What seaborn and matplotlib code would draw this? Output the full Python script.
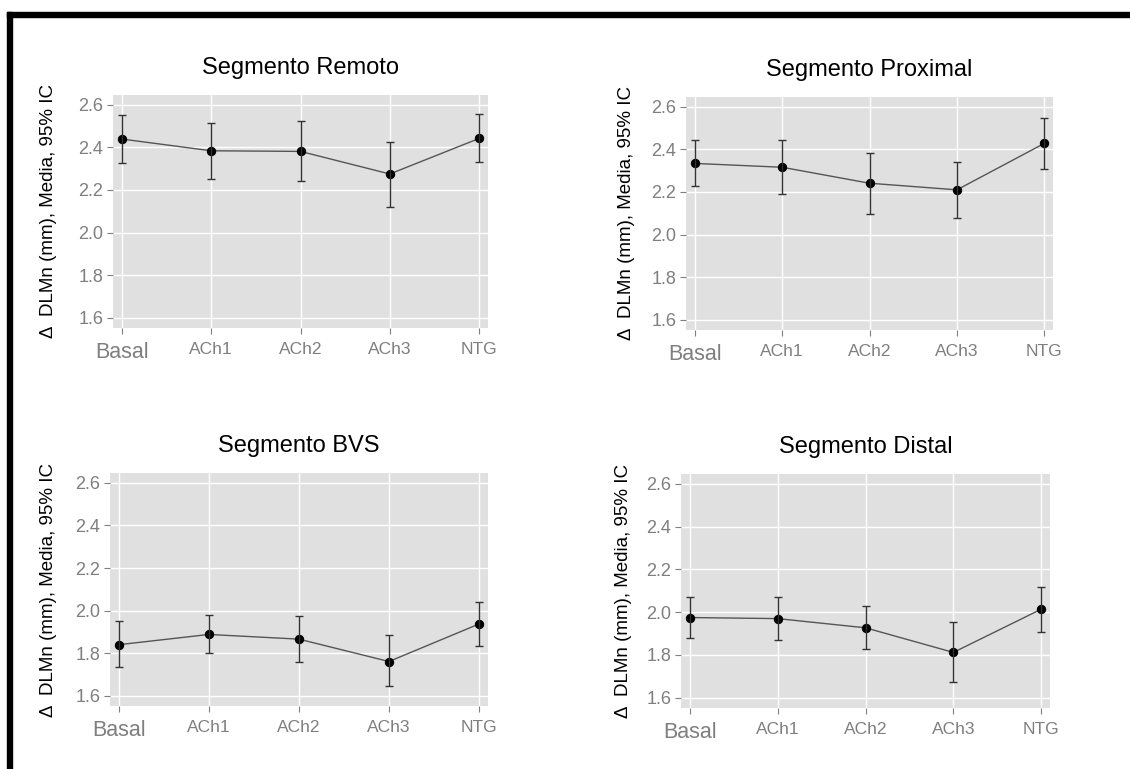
import matplotlib
matplotlib.use("Agg")
import matplotlib.pyplot as plt
import numpy as np
import pandas as pd
import seaborn as sns
from matplotlib.patches import Rectangle

# values (mean, lower and upper 95% CI)
conditions = ["Basal", "ACh1", "ACh2", "ACh3", "NTG"]
titles = ["Segmento Remoto", "Segmento Proximal", "Segmento BVS", "Segmento Distal"]

remoto_mean = [2.439, 2.384, 2.381, 2.275, 2.442]
remoto_lo = [2.327, 2.253, 2.243, 2.120, 2.331]
remoto_hi = [2.553, 2.514, 2.523, 2.425, 2.556]

proximal_mean = [2.334, 2.316, 2.241, 2.210, 2.428]
proximal_lo = [2.227, 2.191, 2.098, 2.077, 2.310]
proximal_hi = [2.443, 2.443, 2.384, 2.341, 2.545]

bvs_mean = [1.840, 1.888, 1.866, 1.761, 1.937]
bvs_lo = [1.735, 1.801, 1.758, 1.644, 1.834]
bvs_hi = [1.953, 1.978, 1.973, 1.884, 2.039]

distal_mean = [1.975, 1.970, 1.927, 1.812, 2.014]
distal_lo = [1.881, 1.870, 1.828, 1.675, 1.908]
distal_hi = [2.073, 2.073, 2.028, 1.953, 2.119]

yticks = [1.6, 1.8, 2.0, 2.2, 2.4, 2.6]
ylabel = "Δ  DLMn (mm), Media, 95% IC"

sns.set_theme(style="white")
plt.rcParams["font.family"] = ["Liberation Sans", "DejaVu Sans"]

fig = plt.figure(figsize=(11.3, 7.69), dpi=100)

# axes boxes in figure fraction, plus x position of the y label
boxes = [
    ([0.1000, 0.5735, 0.3319, 0.3030], -0.149),
    ([0.6071, 0.5709, 0.3248, 0.3030], -0.139),
    ([0.0973, 0.0819, 0.3345, 0.3030], -0.140),
    ([0.6027, 0.0793, 0.3265, 0.3043], -0.133),
]
series = [
    (remoto_mean, remoto_lo, remoto_hi),
    (proximal_mean, proximal_lo, proximal_hi),
    (bvs_mean, bvs_lo, bvs_hi),
    (distal_mean, distal_lo, distal_hi),
]

for (box, labx), title, (m, lo, hi) in zip(boxes, titles, series):
    ax = fig.add_axes(box)
    ax.set_facecolor("#e0e0e0")
    df = pd.DataFrame({"cond": conditions, "mean": m})
    sns.pointplot(data=df, x="cond", y="mean", order=conditions, errorbar=None,
                  color="#555555", linewidth=1.0, markersize=6,
                  markerfacecolor="black", markeredgecolor="black", ax=ax)
    pos = np.arange(len(conditions))
    m_arr = np.array(m)
    ax.errorbar(pos, m_arr, yerr=[m_arr - np.array(lo), np.array(hi) - m_arr],
                fmt="none", ecolor="#333333", elinewidth=1.0, capsize=3,
                capthick=1.0, zorder=3)
    ax.set_xlim(-0.1, 4.1)
    ax.set_ylim(1.552, 2.646)
    ax.set_yticks(yticks)
    ax.set_yticklabels([f"{v:.1f}" for v in yticks])
    ax.grid(True, color="white", linewidth=1.0)
    ax.set_axisbelow(True)
    for s in ax.spines.values():
        s.set_visible(False)
    ax.tick_params(axis="both", which="major", length=4, width=0.8,
                   color="#7f7f7f", labelcolor="#7f7f7f", labelsize=13,
                   left=True, bottom=True, direction="out", pad=3)
    ax.tick_params(axis="x", labelsize=12.5, pad=6)
    ax.get_xticklabels()[0].set_fontsize(15.5)
    ax.set_xlabel("")
    ax.set_ylabel(ylabel, fontsize=13.5, color="black")
    ax.yaxis.set_label_coords(labx, 0.5)
    ax.set_title(title, fontsize=17, color="black", pad=15)

# black frame on top and left edge
fig.patches.append(Rectangle((7 / 1130, 0), 5 / 1130, 757 / 769,
                             transform=fig.transFigure, color="black"))
fig.patches.append(Rectangle((7 / 1130, 752 / 769), 1123 / 1130, 5 / 769,
                             transform=fig.transFigure, color="black"))

fig.savefig("out.png", dpi=100, facecolor="white")
